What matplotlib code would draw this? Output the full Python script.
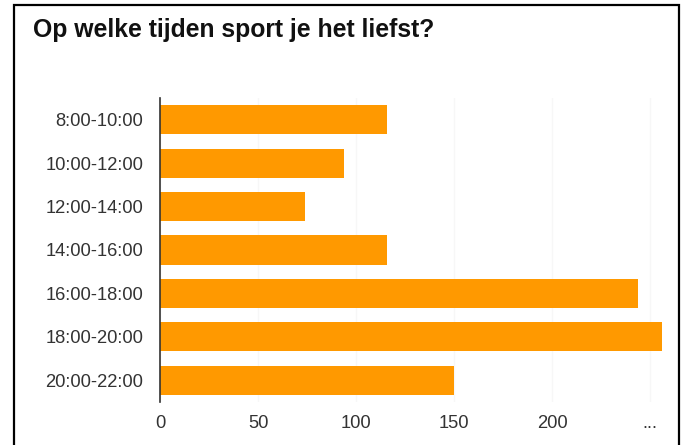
import matplotlib
matplotlib.use("Agg")
import matplotlib.pyplot as plt
from matplotlib.patches import Rectangle

# Survey results: preferred time slots for doing sport
categories = ["8:00-10:00", "10:00-12:00", "12:00-14:00", "14:00-16:00",
              "16:00-18:00", "18:00-20:00", "20:00-22:00"]
counts = [116, 94, 74, 116, 244, 256, 150]
tick_values = [0, 50, 100, 150, 200, 250]
tick_labels = ["0", "50", "100", "150", "200", "..."]
title = "Op welke tijden sport je het liefst?"

plt.rcParams["font.family"] = ["Liberation Sans", "DejaVu Sans"]

W, H = 683, 445
fig = plt.figure(figsize=(W / 100, H / 100), dpi=100)
fig.patch.set_facecolor("white")

ax = fig.add_axes([160 / W, 1 - 402 / H, (662 - 160) / W, (402 - 98) / H])
ypos = list(range(len(categories)))
ax.barh(ypos, counts, height=0.67, color="#FF9900", zorder=2)
ax.set_ylim(len(categories) - 0.5, -0.5)
ax.set_xlim(0, 256)
ax.set_yticks(ypos)
ax.set_yticklabels(categories)
ax.set_xticks(tick_values)
ax.set_xticklabels(tick_labels)
ax.tick_params(axis="both", length=0, labelsize=13.2, colors="#333333")
ax.tick_params(axis="y", pad=12)
ax.tick_params(axis="x", pad=9)
ax.xaxis.grid(True, color="#f7f7f7", linewidth=1, zorder=0)
for side in ("top", "right", "bottom"):
    ax.spines[side].set_visible(False)
ax.spines["left"].set_color("#333333")
ax.spines["left"].set_linewidth(1.2)
ax.spines["left"].set_zorder(3)

fig.text(33 / W, 1 - 30 / H, title, fontsize=17.8, fontweight="bold",
         color="#111111", ha="left", va="center")

# Frame around the whole chart
fig.patches.append(Rectangle((14 / W, -0.02), (679 - 14) / W, 1.02 - 5 / H,
                             transform=fig.transFigure, fill=False,
                             edgecolor="black", linewidth=1.6))

fig.savefig("out.png", dpi=100)
